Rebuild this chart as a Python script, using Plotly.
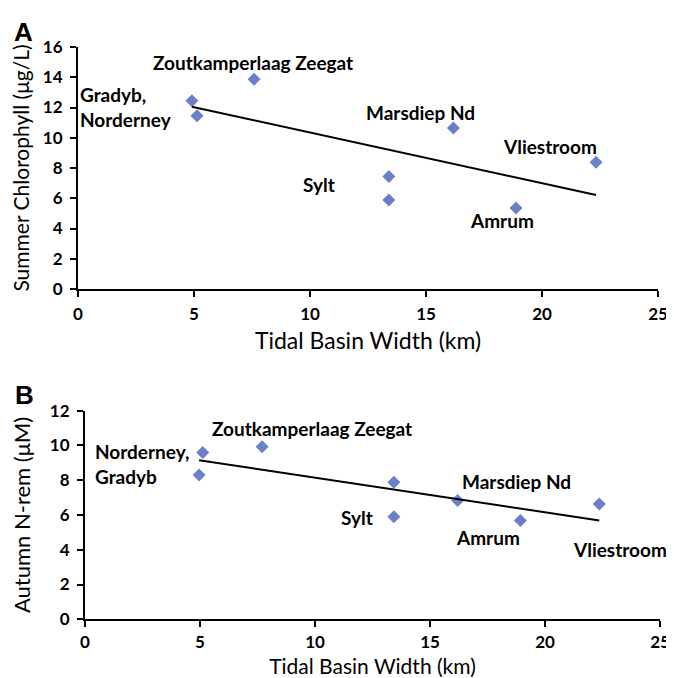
import numpy as np
import plotly.graph_objects as go

# ---- data ----
sites_a = ["Gradyb", "Norderney", "Zoutkamperlaag Zeegat", "Sylt", "Sylt", "Marsdiep Nd", "Amrum", "Vliestroom"]
width_a = [4.91, 5.13, 7.59, 13.4, 13.4, 16.18, 18.88, 22.33]
chl_a = [12.45, 11.46, 13.87, 7.43, 5.88, 10.64, 5.36, 8.38]

sites_b = ["Norderney", "Gradyb", "Zoutkamperlaag Zeegat", "Sylt", "Sylt", "Marsdiep Nd", "Amrum", "Vliestroom"]
width_b = [5.12, 4.96, 7.70, 13.43, 13.43, 16.20, 18.93, 22.36]
nrem_b = [9.60, 8.30, 9.93, 7.88, 5.90, 6.84, 5.69, 6.63]

labels_a = ["Zoutkamperlaag Zeegat", "Gradyb,<br>Norderney", "Marsdiep Nd", "Vliestroom", "Sylt", "Amrum"]
labels_b = ["Zoutkamperlaag Zeegat", "Norderney,<br>Gradyb", "Marsdiep Nd", "Sylt", "Amrum", "Vliestroom"]

x_ticks = [0, 5, 10, 15, 20, 25]
y_ticks_a = [0, 2, 4, 6, 8, 10, 12, 14, 16]
y_ticks_b = [0, 2, 4, 6, 8, 10, 12]

# ---- styles / positions ----
W, H = 666, 670   # page body adds an 8px margin
OFF = 8
MARKER_COLOR = "#6a80c8"
FONT = "Lato"

# label anchor positions (data coords) and alignment
pos_a = [(7.54, 15.0, "center"), (0.0, 12.03, "left"),
         (14.78, 11.64, "center"), (20.34, 9.39, "center"), (10.39, 6.88, "center"),
         (18.28, 4.50, "center")]
pos_b = [(9.87, 11.0, "center"), (0.35, 8.96, "left"),
         (18.78, 7.90, "center"), (11.83, 5.88, "center"), (17.52, 4.68, "center"),
         (23.25, 4.04, "center")]


def px_x(p):
    return (p - OFF) / W


def px_y(p):
    return 1 - (p - OFF) / H


def trend(x, y):
    k, b = np.polyfit(x, y, 1)
    xs = np.array([min(x), max(x)])
    return xs, k * xs + b


fig = go.Figure()

for (xv, yv, xa, ya) in [(width_a, chl_a, "x", "y"), (width_b, nrem_b, "x2", "y2")]:
    fig.add_trace(go.Scatter(x=xv, y=yv, mode="markers", xaxis=xa, yaxis=ya,
                             marker=dict(symbol="diamond", size=10, color=MARKER_COLOR),
                             showlegend=False))
    tx, ty = trend(xv, yv)
    fig.add_trace(go.Scatter(x=tx, y=ty, mode="lines", xaxis=xa, yaxis=ya,
                             line=dict(color="black", width=2), showlegend=False))

lblfont = dict(family=FONT, size=19, color="black", weight="bold")
annotations = []
for txt, (ax, ay, al) in zip(labels_a, pos_a):
    annotations.append(dict(text=txt, x=ax, y=ay, xref="x", yref="y", xanchor=al, yanchor="middle",
                            align=al, showarrow=False, font=lblfont))
for txt, (ax, ay, al) in zip(labels_b, pos_b):
    annotations.append(dict(text=txt, x=ax, y=ay, xref="x2", yref="y2", xanchor=al, yanchor="middle",
                            align=al, showarrow=False, font=lblfont))
letterfont = dict(family="Liberation Sans", size=26, color="black", weight="bold")
annotations.append(dict(text="A", x=px_x(23), y=px_y(32), xref="paper", yref="paper", showarrow=False,
                        xanchor="center", yanchor="middle", font=letterfont))
annotations.append(dict(text="B", x=px_x(24), y=px_y(395), xref="paper", yref="paper", showarrow=False,
                        xanchor="center", yanchor="middle", font=letterfont))

tickfont = dict(family=FONT, size=17, color="black", weight="bold")
axis_common = dict(showline=True, linecolor="black", linewidth=2, ticks="outside", ticklen=6,
                   tickwidth=1.5, tickcolor="black", showgrid=False, zeroline=False,
                   tickfont=tickfont, automargin=False)

fig.update_layout(
    width=W, height=H,
    margin=dict(l=0, r=0, t=0, b=0),
    paper_bgcolor="white", plot_bgcolor="white",
    annotations=annotations,
    xaxis=dict(domain=[px_x(78), px_x(658)], range=[0, 25], tickvals=x_ticks, anchor="y",
               title=dict(text="Tidal Basin Width (km)", font=dict(family=FONT, size=23, color="black"),
                          standoff=9),
               ticklabelstandoff=3, **axis_common),
    yaxis=dict(domain=[px_y(289), px_y(47)], range=[0, 16], tickvals=y_ticks_a, anchor="x",
               title=dict(text="Summer Chlorophyll (μg/L)", font=dict(family=FONT, size=21, color="black"),
                          standoff=11),
               ticklabelstandoff=4, **axis_common),
    xaxis2=dict(domain=[px_x(85), px_x(660)], range=[0, 25], tickvals=x_ticks, anchor="y2",
                title=dict(text="Tidal Basin Width (km)", font=dict(family=FONT, size=21, color="black"),
                           standoff=22),
                ticklabelstandoff=0, **axis_common),
    yaxis2=dict(domain=[px_y(619.3), px_y(410.7)], range=[0, 12], tickvals=y_ticks_b, anchor="x2",
                title=dict(text="Autumn N-rem (μM)", font=dict(family=FONT, size=22, color="black"),
                           standoff=24),
                ticklabelstandoff=4, **axis_common),
)

fig.write_html("out.html")
